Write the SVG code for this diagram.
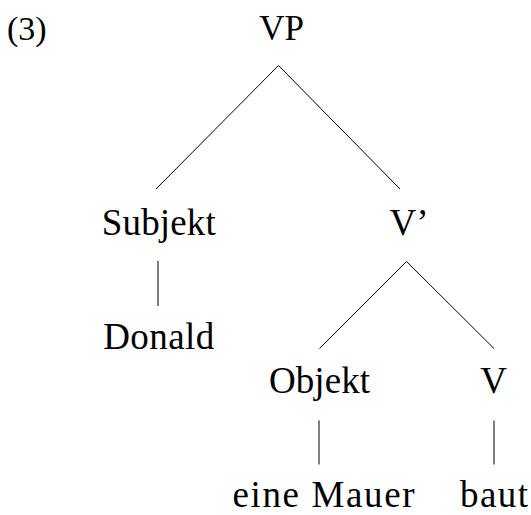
<svg xmlns="http://www.w3.org/2000/svg" width="531" height="515" viewBox="0 0 531 515">
  <style>
    .lbl { font-family: "Liberation Serif", "Times New Roman", serif; font-size: 37px; fill: #000; text-anchor: middle; }
    .num { font-family: "Liberation Serif", "Times New Roman", serif; font-size: 34px; fill: #000; }
    .edge { stroke: #000; stroke-width: 1; fill: none; }
  </style>
  <rect width="531" height="515" fill="#fff"/>

  <!-- example number -->
  <text class="num" x="7" y="40">(3)</text>

  <!-- tree edges -->
  <g id="edges">
    <polyline class="edge" points="156,189 278.5,65.5 400,189"/>
    <line class="edge" x1="158" y1="261" x2="158" y2="306"/>
    <polyline class="edge" points="319.5,348.5 406.5,261.5 494,348.5"/>
    <line class="edge" x1="319" y1="420.5" x2="319" y2="464.5"/>
    <line class="edge" x1="494" y1="420.5" x2="494" y2="464.5"/>
  </g>

  <!-- tree nodes -->
  <g id="node-vp"><text class="lbl" x="281.5" y="39.5" style="font-size:35px">VP</text></g>
  <g id="node-subjekt"><text class="lbl" x="158.8" y="235" textLength="114">Subjekt</text></g>
  <g id="node-vbar"><text class="lbl" x="409" y="235">V’</text></g>
  <g id="node-donald"><text class="lbl" x="158.7" y="349" textLength="111">Donald</text></g>
  <g id="node-objekt"><text class="lbl" x="319.5" y="393" textLength="101">Objekt</text></g>
  <g id="node-v"><text class="lbl" x="493.5" y="393">V</text></g>
  <g id="node-eine-mauer"><text class="lbl" x="323.5" y="506.5" textLength="182">eine Mauer</text></g>
  <g id="node-baut"><text class="lbl" x="494" y="507" textLength="68">baut</text></g>
</svg>
